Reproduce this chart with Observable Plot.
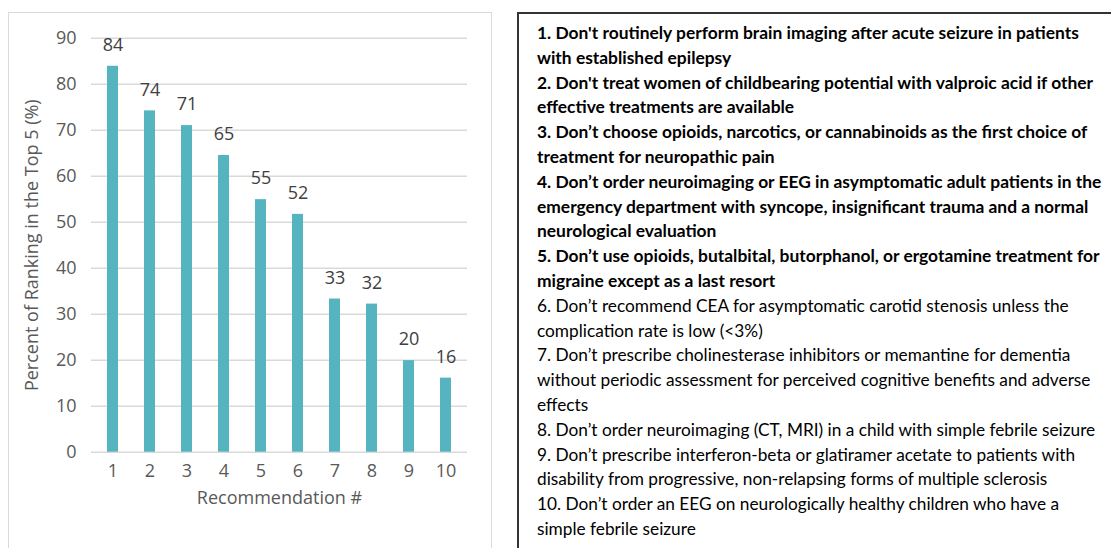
<!DOCTYPE html>
<html>
<head>
<meta charset="utf-8">
<script src="https://cdn.jsdelivr.net/npm/d3@7"></script>
<script src="https://cdn.jsdelivr.net/npm/@observablehq/plot@0.6"></script>
<style>
  html, body { margin: 0; padding: 0; background: #fff; overflow: hidden; }
  body { width: 1111px; height: 548px; position: relative; }
  #chartbox { position: absolute; left: 8px; top: 12px; width: 484px; height: 600px;
    border: 1.5px solid #d9d9d9; box-sizing: border-box; }
  #chart { position: absolute; left: 0; top: 0; }
  #textbox { position: absolute; left: 517px; top: 12px; width: 700px; height: 600px;
    border-left: 2px solid #333; border-top: 2px solid #333; box-sizing: border-box;
    padding: 7px 0 0 18px; font-family: Lato, sans-serif; font-size: 17.25px; line-height: 24.8px; color: #000; }
  #textbox .line { white-space: nowrap; }
  #textbox .b { font-weight: 700; font-size: 17.4px; }
</style>
</head>
<body>
<div id="chartbox"></div>
<div id="chart"></div>
<div id="textbox"></div>
<script>
// ---- data ----
const recommendations = ["1", "2", "3", "4", "5", "6", "7", "8", "9", "10"];
const percentTop5 = [83.9, 74.2, 71.0, 64.5, 54.9, 51.7, 33.3, 32.2, 19.9, 16.1];
const yTicks = [0, 10, 20, 30, 40, 50, 60, 70, 80, 90];
const xTitle = "Recommendation #";
const yTitle = "Percent of Ranking in the Top 5 (%)";
const boldItems = [true, true, true, true, true, false, false, false, false, false];
const itemLines = [
  ["1. Don't routinely perform brain imaging after acute seizure in patients", "with established epilepsy"],
  ["2. Don't treat women of childbearing potential with valproic acid if other", "effective treatments are available"],
  ["3. Don’t choose opioids, narcotics, or cannabinoids as the first choice of", "treatment for neuropathic pain"],
  ["4. Don’t order neuroimaging or EEG in asymptomatic adult patients in the", "emergency department with syncope, insignificant trauma and a normal", "neurological evaluation"],
  ["5. Don’t use opioids, butalbital, butorphanol, or ergotamine treatment for", "migraine except as a last resort"],
  ["6. Don’t recommend CEA for asymptomatic carotid stenosis unless the", "complication rate is low (<3%)"],
  ["7. Don’t prescribe cholinesterase inhibitors or memantine for dementia", "without periodic assessment for perceived cognitive benefits and adverse", "effects"],
  ["8. Don’t order neuroimaging (CT, MRI) in a child with simple febrile seizure"],
  ["9. Don’t prescribe interferon-beta or glatiramer acetate to patients with", "disability from progressive, non-relapsing forms of multiple sclerosis"],
  ["10. Don’t order an EEG on neurologically healthy children who have a", "simple febrile seizure"]
];

const data = recommendations.map((r, i) => ({rec: r, value: percentTop5[i], label: String(Math.round(percentTop5[i]))}));

const chart = Plot.plot({
  width: 500,
  height: 548,
  marginTop: 37.7,
  marginBottom: 96.3,
  marginLeft: 91,
  marginRight: 33,
  style: {fontFamily: "'Open Sans', sans-serif", fontSize: "18px", color: "#595959", background: "transparent", overflow: "visible"},
  x: {type: "band", domain: recommendations, paddingInner: 0.69, paddingOuter: 0.345},
  y: {domain: [0, 90]},
  marks: [
    Plot.gridY(yTicks, {stroke: "#d9d9d9", strokeOpacity: 1, strokeWidth: 1.5}),
    Plot.barY(data, {x: "rec", y: "value", fill: "#55b4c0"}),
    Plot.text(data, {x: "rec", y: "value", text: "label", dy: -21, lineAnchor: "middle", fill: "#404040", fontSize: 18}),
    Plot.axisY(yTicks, {tickSize: 0, tickPadding: 15, label: null, fontSize: 18}),
    Plot.axisX({tickSize: 0, tickPadding: 12, label: null, fontSize: 18}),
    Plot.text([xTitle], {frameAnchor: "bottom", dy: 46.5, lineAnchor: "middle", fill: "#595959", fontSize: 18}),
    Plot.text([yTitle], {frameAnchor: "left", dx: -59, rotate: -90, lineAnchor: "middle", textAnchor: "middle", fill: "#595959", fontSize: 18})
  ]
});
document.getElementById("chart").appendChild(chart);

const tb = document.getElementById("textbox");
itemLines.forEach((lines, i) => {
  lines.forEach(l => {
    const d = document.createElement("div");
    d.className = "line" + (boldItems[i] ? " b" : "");
    d.textContent = l;
    tb.appendChild(d);
  });
});
</script>
</body>
</html>
